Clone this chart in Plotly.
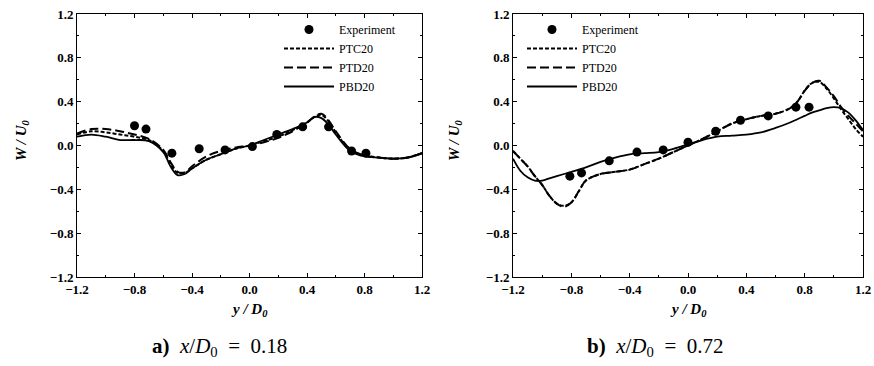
import plotly.graph_objects as go

# ---------------- data ----------------
# panel a) x/D0 = 0.18
a_exp_x = [-0.80, -0.72, -0.54, -0.35, -0.17, 0.02, 0.19, 0.37, 0.55, 0.71, 0.81]
a_exp_y = [0.18, 0.15, -0.07, -0.03, -0.04, -0.01, 0.10, 0.17, 0.17, -0.05, -0.07]

a_x = [-1.2, -1.1, -1.0, -0.9, -0.8, -0.7, -0.6, -0.55, -0.5, -0.45, -0.4, -0.3, -0.2, -0.1,
       0.0, 0.1, 0.2, 0.3, 0.4, 0.45, 0.5, 0.55, 0.6, 0.7, 0.8, 0.9, 1.0, 1.1, 1.2]
a_ptc = [0.10, 0.13, 0.12, 0.10, 0.08, 0.05, -0.05, -0.17, -0.25, -0.25, -0.21, -0.13, -0.08, -0.03,
         0.00, 0.04, 0.08, 0.14, 0.21, 0.26, 0.28, 0.22, 0.12, -0.04, -0.09, -0.11, -0.12, -0.11, -0.07]
a_ptd = [0.11, 0.15, 0.15, 0.13, 0.10, 0.06, -0.04, -0.15, -0.24, -0.245, -0.19, -0.10, -0.05, -0.02,
         0.00, 0.03, 0.07, 0.13, 0.21, 0.26, 0.29, 0.23, 0.13, -0.03, -0.09, -0.11, -0.12, -0.11, -0.07]
a_pbd = [0.08, 0.10, 0.08, 0.05, 0.05, 0.04, -0.06, -0.19, -0.27, -0.26, -0.21, -0.13, -0.08, -0.03,
         0.00, 0.05, 0.10, 0.15, 0.21, 0.26, 0.25, 0.19, 0.10, -0.05, -0.10, -0.11, -0.12, -0.11, -0.07]

# panel b) x/D0 = 0.72
b_exp_x = [-0.81, -0.73, -0.54, -0.35, -0.17, 0.00, 0.19, 0.36, 0.55, 0.74, 0.83]
b_exp_y = [-0.28, -0.25, -0.14, -0.06, -0.04, 0.03, 0.13, 0.23, 0.27, 0.35, 0.35]

b_x = [-1.2, -1.15, -1.1, -1.05, -1.0, -0.95, -0.9, -0.85, -0.8, -0.75, -0.7, -0.6, -0.5, -0.4,
       -0.3, -0.2, -0.1, 0.0, 0.1, 0.2, 0.3, 0.4, 0.5, 0.6, 0.7, 0.75, 0.8, 0.85, 0.9, 0.95,
       1.0, 1.05, 1.1, 1.15, 1.2]
b_ptc = [-0.05, -0.12, -0.19, -0.28, -0.36, -0.46, -0.53, -0.55, -0.52, -0.42, -0.32, -0.26, -0.24, -0.22,
         -0.17, -0.12, -0.06, 0.00, 0.06, 0.13, 0.20, 0.24, 0.27, 0.29, 0.34, 0.40, 0.50, 0.57, 0.58, 0.52,
         0.43, 0.33, 0.24, 0.15, 0.08]
b_ptd = [-0.05, -0.12, -0.19, -0.28, -0.36, -0.46, -0.53, -0.56, -0.52, -0.42, -0.32, -0.26, -0.24, -0.22,
         -0.17, -0.12, -0.06, 0.00, 0.06, 0.13, 0.20, 0.24, 0.27, 0.29, 0.34, 0.40, 0.50, 0.57, 0.59, 0.53,
         0.45, 0.35, 0.27, 0.20, 0.13]
b_pbd = [-0.12, -0.23, -0.29, -0.32, -0.32, -0.30, -0.28, -0.26, -0.24, -0.22, -0.20, -0.15, -0.11, -0.08,
         -0.07, -0.06, -0.03, 0.01, 0.05, 0.08, 0.09, 0.10, 0.12, 0.16, 0.21, 0.24, 0.27, 0.30, 0.32, 0.34,
         0.35, 0.34, 0.30, 0.23, 0.14]

tick_vals = [-1.2, -0.8, -0.4, 0.0, 0.4, 0.8, 1.2]
tick_text = ["\u22121.2", "\u22120.8", "\u22120.4", "0.0", "0.4", "0.8", "1.2"]

series_names = ["Experiment", "PTC20", "PTD20", "PBD20"]
captions = ["<b>a)</b>&nbsp;&nbsp;<i>x</i>/<i>D</i><sub>0</sub>&nbsp;&nbsp;=&nbsp;&nbsp;0.18",
            "<b>b)</b>&nbsp;&nbsp;<i>x</i>/<i>D</i><sub>0</sub>&nbsp;&nbsp;=&nbsp;&nbsp;0.72"]

# ---------------- figure ----------------
W, H = 874, 366
serif = "Liberation Serif"
fig = go.Figure()

panels = [
    dict(xa="x", ya="y", leg="legend", ex=a_exp_x, ey=a_exp_y, cx=a_x, ptc=a_ptc, ptd=a_ptd, pbd=a_pbd),
    dict(xa="x2", ya="y2", leg="legend2", ex=b_exp_x, ey=b_exp_y, cx=b_x, ptc=b_ptc, ptd=b_ptd, pbd=b_pbd),
]
for p in panels:
    fig.add_trace(go.Scatter(x=p["ex"], y=p["ey"], mode="markers", name=series_names[0],
                             marker=dict(color="black", size=9), xaxis=p["xa"], yaxis=p["ya"], legend=p["leg"]))
    fig.add_trace(go.Scatter(x=p["cx"], y=p["ptc"], mode="lines", name=series_names[1], line_shape="spline",
                             line=dict(color="black", width=2, dash="4px,2px"),
                             xaxis=p["xa"], yaxis=p["ya"], legend=p["leg"]))
    fig.add_trace(go.Scatter(x=p["cx"], y=p["ptd"], mode="lines", name=series_names[2], line_shape="spline",
                             line=dict(color="black", width=2, dash="9px,4px"),
                             xaxis=p["xa"], yaxis=p["ya"], legend=p["leg"]))
    fig.add_trace(go.Scatter(x=p["cx"], y=p["pbd"], mode="lines", name=series_names[3], line_shape="spline",
                             line=dict(color="black", width=1.8),
                             xaxis=p["xa"], yaxis=p["ya"], legend=p["leg"]))

ydom = [1 - 277 / H, 1 - 14 / H]
xdom1 = [77 / W, 422 / W]
xdom2 = [513 / W, 863 / W]

def axis_common():
    return dict(range=[-1.2, 1.2], tickvals=tick_vals, ticktext=tick_text, automargin=False,
                ticks="inside", ticklen=4, tickwidth=1, tickcolor="black",
                minor=dict(ticks="inside", ticklen=2, dtick=0.2, tick0=-1.2, tickcolor="black"),
                showline=True, linecolor="black", linewidth=1, mirror="ticks",
                showgrid=False, zeroline=False,
                tickfont=dict(family=serif, size=13, color="black", weight="bold"))

leg_font = dict(family=serif, size=12, color="black")
fig.update_layout(
    width=W, height=H, margin=dict(l=0, r=0, t=0, b=0, autoexpand=False),
    paper_bgcolor="white", plot_bgcolor="white", showlegend=True,
    xaxis=dict(domain=xdom1, anchor="y", **axis_common()),
    yaxis=dict(domain=ydom, anchor="x", **axis_common()),
    xaxis2=dict(domain=xdom2, anchor="y2", **axis_common()),
    yaxis2=dict(domain=ydom, anchor="x2", **axis_common()),
    legend=dict(x=279 / W, y=1 - 15 / H, xanchor="left", yanchor="top",
                bgcolor="rgba(0,0,0,0)", font=leg_font, tracegroupgap=0, itemwidth=50),
    legend2=dict(x=522 / W, y=1 - 15 / H, xanchor="left", yanchor="top",
                 bgcolor="rgba(0,0,0,0)", font=leg_font, tracegroupgap=0, itemwidth=50),
)

ann = []
for cx, xr in [((77 + 422) / 2, 22), ((513 + 863) / 2, 455)]:
    ann.append(dict(text="<i>y / D<sub>0</sub></i>", x=cx / W, y=1 - 310 / H, xref="paper", yref="paper",
                    xanchor="center", yanchor="middle", showarrow=False,
                    font=dict(family=serif, size=15, color="black", weight="bold")))
    ann.append(dict(text="<i>W / U<sub>0</sub></i>", x=xr / W, y=1 - 140 / H, xref="paper", yref="paper",
                    xanchor="center", yanchor="middle", showarrow=False, textangle=-90,
                    font=dict(family=serif, size=15, color="black", weight="bold")))
ann.append(dict(text=captions[0], x=219 / W, y=1 - 347 / H, xref="paper", yref="paper", showarrow=False,
                xanchor="center", yanchor="middle", font=dict(family=serif, size=21, color="black")))
ann.append(dict(text=captions[1], x=655 / W, y=1 - 347 / H, xref="paper", yref="paper", showarrow=False,
                xanchor="center", yanchor="middle", font=dict(family=serif, size=21, color="black")))
fig.update_layout(annotations=ann)

fig.write_html("out.html", config={"displayModeBar": False},
               post_script="document.body.style.margin='0';document.body.style.overflow='hidden';")
